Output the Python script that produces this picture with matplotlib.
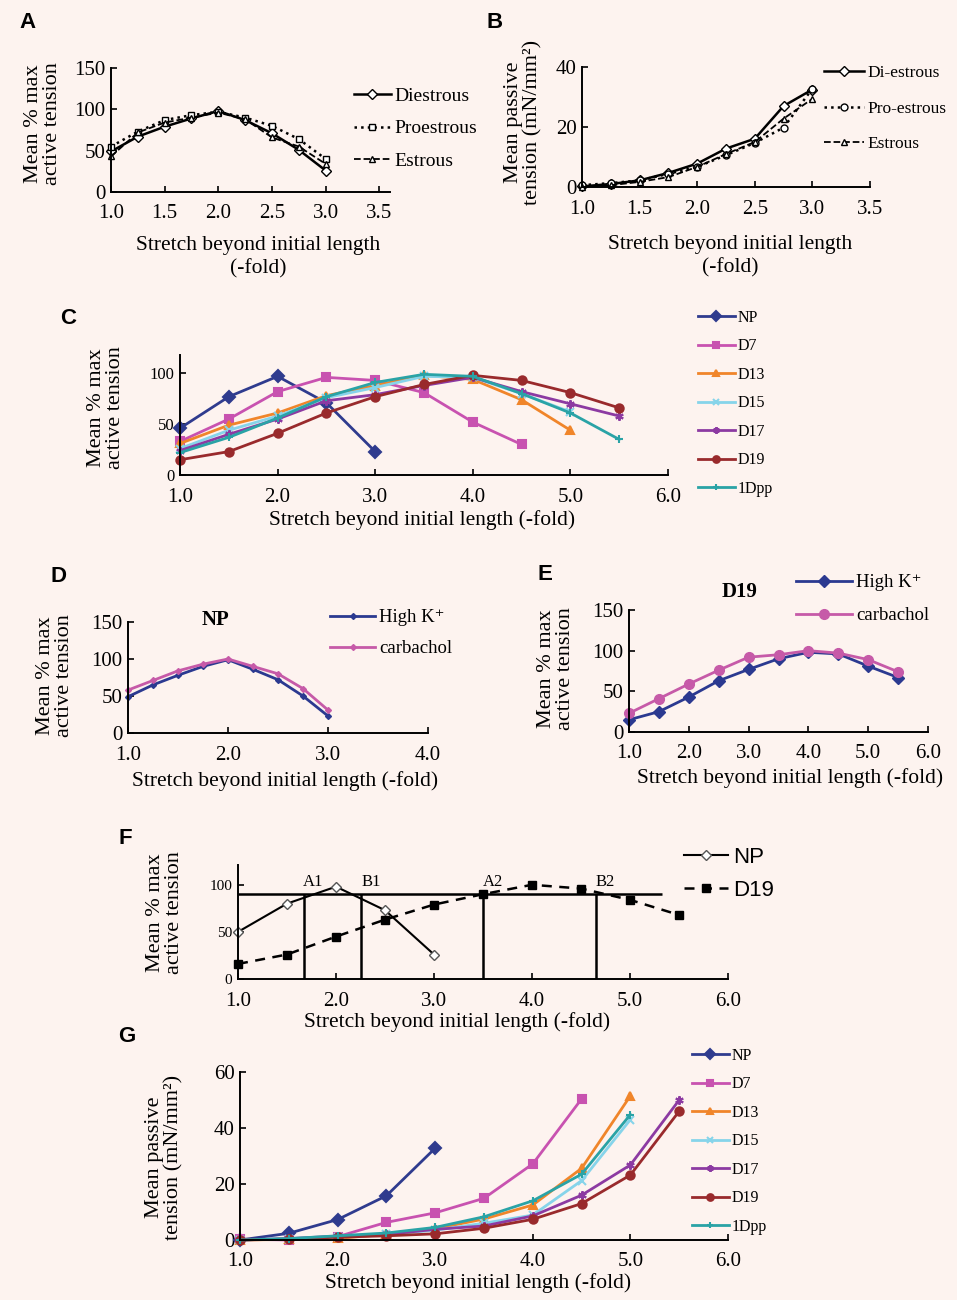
import matplotlib
matplotlib.use('Agg')
import matplotlib.pyplot as plt

W, H = 957, 1300
BG = '#fdf3ef'
SERIF = ['Liberation Serif', 'DejaVu Serif']
SANS = ['Liberation Sans', 'DejaVu Sans']
plt.rcParams['font.family'] = SERIF

# ---------- data ----------
# A: active tension, oestrous cycle
a_x = [1.0, 1.25, 1.5, 1.75, 2.0, 2.25, 2.5, 2.75, 3.0]
a_diestrous = [49, 67, 79, 89, 98, 87, 71, 51, 26]
a_proestrous = [55, 73, 87, 93, 97, 90, 80, 64, 40]
a_estrous = [43, 72, 84, 90, 96, 88, 66, 55, 34]

# B: passive tension, oestrous cycle
b_x = [1.0, 1.25, 1.5, 1.75, 2.0, 2.25, 2.5, 2.75, 3.0]
b_diestrous = [0.2, 1.0, 2.2, 4.7, 7.8, 12.8, 16.1, 27.0, 32.5]
b_proestrous = [0.6, 1.3, 2.2, 4.4, 6.7, 10.6, 14.7, 19.8, 32.8]
b_estrous = [0.0, 0.6, 1.7, 3.3, 6.7, 11.0, 15.0, 22.8, 29.4]

# C: active tension, pregnancy groups
groups = ['NP', 'D7', 'D13', 'D15', 'D17', 'D19', '1Dpp']
c_x = [1.0, 1.5, 2.0, 2.5, 3.0, 3.5, 4.0, 4.5, 5.0, 5.5]
c_vals = {
    'NP':   [46, 77, 97, 71, 23],
    'D7':   [33, 55, 82, 96, 93, 81, 52, 30],
    'D13':  [31, 49, 61, 78, 88, 98, 94, 74, 44],
    'D15':  [26, 44, 58, 76, 86, 97, 96, 80, 62],
    'D17':  [24, 40, 55, 73, 79, 88, 96, 82, 70, 58],
    'D19':  [15, 23, 41, 61, 77, 89, 98, 93, 81, 66],
    '1Dpp': [22, 37, 56, 77, 91, 99, 97, 80, 61, 35],
}

# D: NP, High K+ vs carbachol
d_x = [1.0, 1.25, 1.5, 1.75, 2.0, 2.25, 2.5, 2.75, 3.0]
d_highk = [49, 65, 78, 90, 99, 86, 72, 50, 23]
d_carb = [58, 71, 84, 93, 100, 90, 80, 60, 31]

# E: D19, High K+ vs carbachol
e_x = [1.0, 1.5, 2.0, 2.5, 3.0, 3.5, 4.0, 4.5, 5.0, 5.5]
e_highk = [15, 25, 43, 63, 77, 90, 98, 96, 81, 67]
e_carb = [23, 41, 59, 76, 92, 95, 100, 97, 89, 74]

# F: optimal length range
f_np_x = [1.0, 1.5, 2.0, 2.5, 3.0]
f_np = [50, 80, 98, 73, 26]
f_d19_x = [1.0, 1.5, 2.0, 2.5, 3.0, 3.5, 4.0, 4.5, 5.0, 5.5]
f_d19 = [16, 26, 45, 63, 79, 90, 100, 96, 84, 68]
f_level = 90
f_level_end = 5.33
f_marks = ['A1', 'B1', 'A2', 'B2']
f_mark_x = [1.67, 2.26, 3.5, 4.65]

# G: passive tension, pregnancy groups
g_x = [1.0, 1.5, 2.0, 2.5, 3.0, 3.5, 4.0, 4.5, 5.0, 5.5]
g_vals = {
    'NP':   [0.0, 2.4, 7.3, 15.8, 32.8],
    'D7':   [0.3, 0.0, 1.2, 6.3, 9.7, 14.9, 27.2, 50.4],
    'D13':  [0.0, 0.2, 0.6, 2.0, 4.0, 7.5, 12.5, 25.6, 51.5],
    'D15':  [0.0, 0.5, 1.0, 2.0, 3.5, 6.0, 8.9, 21.2, 43.0],
    'D17':  [0.0, 0.5, 1.4, 2.0, 3.8, 5.0, 8.6, 16.0, 26.8, 50.0],
    'D19':  [0.0, 0.3, 1.0, 1.5, 2.2, 4.2, 7.4, 13.0, 23.2, 46.0],
    '1Dpp': [0.0, 0.5, 1.5, 2.5, 4.5, 8.3, 14.0, 23.5, 44.8],
}

grp_colors = {'NP': '#2f3b8e', 'D7': '#c852b0', 'D13': '#f0852a', 'D15': '#86d4ea',
              'D17': '#8c3aa2', 'D19': '#992a2c', '1Dpp': '#2aa3a6'}
grp_markers = {'NP': 'D', 'D7': 's', 'D13': '^', 'D15': 'x', 'D17': (6, 2, 0),
               'D19': 'o', '1Dpp': '+'}
BLUE = '#2b3990'
PINK = '#c65aa8'
XLAB = 'Stretch beyond initial length (-fold)'

fig = plt.figure(figsize=(W / 100, H / 100), dpi=100, facecolor=BG)


def px_axes(x0, x1, y0, y1):
    return fig.add_axes([x0 / W, 1 - y1 / H, (x1 - x0) / W, (y1 - y0) / H])


def style(ax, xlim, ylim, xticks, yticks, xfs=15, yfs=15):
    ax.set_xlim(xlim)
    ax.set_ylim(ylim)
    ax.patch.set_alpha(0)
    for s in ('top', 'right'):
        ax.spines[s].set_visible(False)
    for s in ('left', 'bottom'):
        ax.spines[s].set_linewidth(1.4)
    ax.set_xticks(xticks)
    ax.set_xticklabels([f'{t:.1f}' for t in xticks])
    ax.set_yticks(yticks)
    ax.set_yticklabels([str(t) for t in yticks])
    ax.tick_params(direction='in', length=4, width=1.2)
    ax.tick_params(axis='x', labelsize=xfs, pad=9)
    ax.tick_params(axis='y', labelsize=yfs, pad=4)


def ftext(x, y, s, **kw):
    return fig.text(x / W, 1 - y / H, s, **kw)


def ylab(x, y, s, fs=16):
    ftext(x, y, s, rotation=90, ha='center', va='center', fontsize=fs,
          linespacing=1.05)


def xlab(x, y, s, fs=15.5):
    ftext(x, y, s, ha='center', va='center', fontsize=fs, linespacing=1.25)


def leg(ax, x, y, fs, family=SERIF, sp=0.7, hl=2.2, htp=0.2, ms=1.0):
    ax.legend(loc='upper left', bbox_to_anchor=(x / W, 1 - y / H),
              bbox_transform=fig.transFigure, frameon=False,
              prop={'family': family, 'size': fs}, labelspacing=sp,
              handlelength=hl, handletextpad=htp, borderpad=0, borderaxespad=0,
              markerscale=ms)


def letter(x, y, s):
    ftext(x, y, s, family=SANS, fontsize=16, fontweight='bold', ha='center', va='center')


# ---------- A ----------
ax = px_axes(111, 390, 68, 192)
style(ax, (1.0, 3.6), (0, 150), [1.0, 1.5, 2.0, 2.5, 3.0, 3.5], [0, 50, 100, 150])
kw = dict(color='black', mfc='white', mec='black', ms=5, mew=1, clip_on=False)
ax.plot(a_x, a_diestrous, '-', marker='D', lw=1.8, label='Diestrous', **kw)
ax.plot(a_x, a_proestrous, ':', marker='s', lw=1.8, label='Proestrous', **kw)
ax.plot(a_x, a_estrous, '--', marker='^', lw=1.3, label='Estrous', **kw)
leg(ax, 354, 87, 14, sp=0.78, hl=1.9)
letter(27, 22, 'A')
ylab(43, 124, 'Mean % max\nactive tension')
xlab(258, 257, 'Stretch beyond initial length\n(-fold)')

# ---------- B ----------
ax = px_axes(582, 870, 67, 187)
style(ax, (1.0, 3.5), (0, 40), [1.0, 1.5, 2.0, 2.5, 3.0, 3.5], [0, 20, 40])
ax.plot(b_x, b_diestrous, '-', marker='D', lw=1.8, label='Di-estrous', **kw)
ax.plot(b_x, b_proestrous, ':', marker='o', lw=1.8, label='Pro-estrous', **kw)
ax.plot(b_x, b_estrous, '--', marker='^', lw=1.3, label='Estrous', **kw)
leg(ax, 824, 65, 12.5, sp=1.12, hl=2.3)
letter(495, 22, 'B')
ylab(523, 122, 'Mean passive\ntension (mN/mm²)')
xlab(730, 256, 'Stretch beyond initial length\n(-fold)')

# ---------- C ----------
ax = px_axes(180, 668, 355, 475)
style(ax, (1.0, 6.0), (0, 118), [1.0, 2.0, 3.0, 4.0, 5.0, 6.0], [0, 50, 100],
      yfs=12)
for g in groups:
    v = c_vals[g]
    ax.plot(c_x[:len(v)], v, '-', color=grp_colors[g], marker=grp_markers[g],
            ms=6, mew=1.5, lw=2, label=g, clip_on=False)
leg(ax, 698, 310, 11.5, sp=0.78, hl=2.3, ms=0.8)
letter(68, 318, 'C')
ylab(106, 408, 'Mean % max\nactive tension')
xlab(422, 520, XLAB)

# ---------- D ----------
ax = px_axes(128, 428, 622, 733)
style(ax, (1.0, 4.0), (0, 150), [1.0, 2.0, 3.0, 4.0], [0, 50, 100, 150])
ax.plot(d_x, d_highk, '-', color=BLUE, marker='D', ms=3, lw=2, label='High K⁺', clip_on=False)
ax.plot(d_x, d_carb, '-', color=PINK, marker='D', ms=3, lw=2, label='carbachol', clip_on=False)
leg(ax, 330, 609, 13.5, sp=0.75, hl=2.4)
letter(58, 577, 'D')
ftext(215, 620, 'NP', ha='center', va='center', fontsize=15, fontweight='bold')
ylab(55, 676, 'Mean % max\nactive tension')
xlab(285, 781, XLAB)

# ---------- E ----------
ax = px_axes(629, 928, 610, 732)
style(ax, (1.0, 6.0), (0, 150), [1.0, 2.0, 3.0, 4.0, 5.0, 6.0], [0, 50, 100, 150])
ax.plot(e_x, e_highk, '-', color=BLUE, marker='D', ms=6, lw=2, label='High K⁺', clip_on=False)
ax.plot(e_x, e_carb, '-', color=PINK, marker='o', ms=7, lw=2, label='carbachol', clip_on=False)
leg(ax, 796, 574, 13.5, sp=0.85, hl=3.0)
letter(545, 575, 'E')
ftext(740, 592, 'D19', ha='center', va='center', fontsize=15, fontweight='bold')
ylab(556, 669, 'Mean % max\nactive tension')
xlab(790, 778, XLAB)

# ---------- F ----------
ax = px_axes(238, 728, 865, 979)
style(ax, (1.0, 6.0), (0, 121), [1.0, 2.0, 3.0, 4.0, 5.0, 6.0], [0, 50, 100],
      yfs=11)
ax.hlines(f_level, 1.0, f_level_end, color='black', lw=1.8)
ax.vlines(f_mark_x, 0, f_level, color='black', lw=1.8)
for m, mx in zip(f_marks, f_mark_x):
    ax.text(mx + 0.1, 103, m, ha='center', va='center', fontsize=12)
ax.plot(f_np_x, f_np, '-', color='black', marker='D', mfc='white', mec='#555555',
        ms=5, lw=1.5, label='NP', clip_on=False)
ax.plot(f_d19_x, f_d19, '--', color='black', marker='s', ms=6, lw=1.8,
        dashes=(4, 3), label='D19', clip_on=False)
leg(ax, 684, 847, 16, family=SANS, sp=0.55, hl=2.0)
letter(125, 838, 'F')
ylab(165, 913, 'Mean % max\nactive tension')
xlab(457, 1022, XLAB)

# ---------- G ----------
ax = px_axes(240, 728, 1072, 1240)
style(ax, (1.0, 6.0), (0, 60), [1.0, 2.0, 3.0, 4.0, 5.0, 6.0], [0, 20, 40, 60])
for g in groups:
    v = g_vals[g]
    ax.plot(g_x[:len(v)], v, '-', color=grp_colors[g], marker=grp_markers[g],
            ms=6, mew=1.5, lw=2, label=g, clip_on=False)
leg(ax, 692, 1048, 11.5, sp=0.78, hl=2.3, ms=0.8)
letter(127, 1037, 'G')
ylab(164, 1157, 'Mean passive\ntension (mN/mm²)')
xlab(478, 1283, XLAB)

fig.savefig('out.png', dpi=100, facecolor=BG)
